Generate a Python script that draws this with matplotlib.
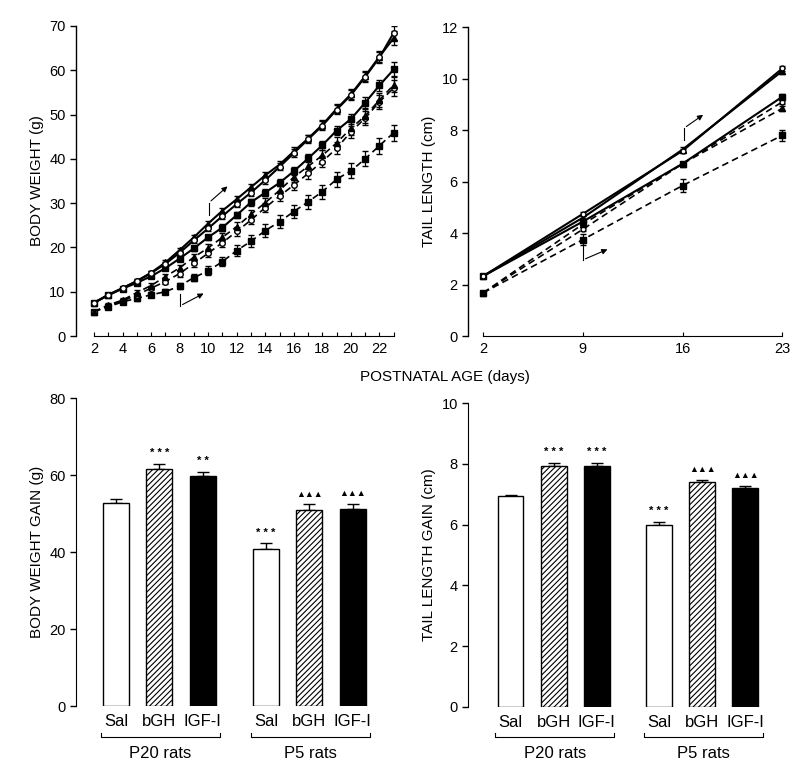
import matplotlib.pyplot as plt

plt.rcParams['font.family'] = ['Liberation Sans', 'DejaVu Sans']
plt.rcParams['hatch.linewidth'] = 0.8

# ---- body weight curves (days 2..23)
days = list(range(2, 24))
bw_p20_sal = [7.5, 9.2, 10.7, 12.0, 13.5, 15.3, 17.5, 19.8, 22.3, 24.5, 27.3,
              30.2, 32.4, 34.6, 37.2, 40.1, 43.1, 46.4, 49.0, 52.7, 56.6, 60.2]
bw_p20_bgh = [7.5, 9.3, 10.8, 12.4, 14.2, 16.3, 18.8, 21.6, 24.3, 27.1, 29.8,
              32.4, 35.2, 38.2, 41.3, 44.4, 47.5, 51.1, 54.4, 58.5, 62.9, 68.5]
bw_p20_igf = [7.5, 9.3, 10.8, 12.4, 14.3, 16.6, 19.4, 22.3, 25.4, 28.3, 30.9,
              33.6, 36.3, 38.7, 41.7, 44.6, 47.7, 51.3, 54.6, 58.7, 63.1, 67.3]
bw_p5_sal = [5.5, 6.6, 7.7, 8.5, 9.3, 10.0, 11.3, 13.2, 14.7, 16.8, 19.3,
             21.4, 23.8, 25.8, 28.1, 30.3, 32.6, 35.4, 37.3, 40.0, 43.0, 45.9]
bw_p5_bgh = [5.5, 6.8, 7.9, 9.3, 10.8, 12.3, 14.1, 16.4, 18.7, 21.1, 23.6,
             26.2, 29.0, 31.6, 34.1, 36.7, 39.4, 42.4, 46.1, 49.2, 52.9, 56.0]
bw_p5_igf = [5.5, 7.0, 8.1, 9.8, 11.4, 13.4, 15.4, 17.8, 19.9, 22.3, 24.7,
             27.5, 30.1, 32.9, 35.9, 38.3, 40.8, 43.6, 46.9, 49.7, 53.3, 56.7]
bw_err_p20 = [0.3, 0.3, 0.3, 0.4, 0.4, 0.5, 0.5, 0.6, 0.6, 0.7, 0.7,
              0.8, 0.8, 0.8, 0.9, 0.9, 1.0, 1.0, 1.1, 1.2, 1.3, 1.6]
bw_err_p5_sal = [0.3, 0.4, 0.4, 0.5, 0.5, 0.6, 0.7, 0.8, 1.0, 1.1, 1.3,
                 1.4, 1.5, 1.5, 1.5, 1.6, 1.6, 1.7, 1.7, 1.7, 1.8, 1.8]
bw_err_p5 = [0.3, 0.4, 0.4, 0.5, 0.5, 0.6, 0.7, 0.8, 0.9, 0.9, 1.0,
             1.0, 1.1, 1.1, 1.2, 1.2, 1.3, 1.3, 1.4, 1.5, 1.6, 1.7]

# ---- tail length curves
tail_days = [2, 9, 16, 23]
tl_p20_sal = [2.33, 4.45, 6.7, 9.3]
tl_p20_bgh = [2.33, 4.75, 7.2, 10.4]
tl_p20_igf = [2.33, 4.6, 7.25, 10.3]
tl_p5_sal = [1.68, 3.75, 5.85, 7.8]
tl_p5_bgh = [1.68, 4.15, 6.7, 9.1]
tl_p5_igf = [1.68, 4.35, 6.7, 8.85]
tl_err = [0.05, 0.08, 0.08, 0.1]
tl_err_p5_sal = [0.05, 0.2, 0.25, 0.2]

# ---- gains (bars)
groups = ['P20 rats', 'P5 rats']
treatments = ['Sal', 'bGH', 'IGF-I']
bw_gain = [52.9, 61.5, 59.7, 40.8, 50.9, 51.2]
bw_gain_err = [1.0, 1.5, 1.2, 1.5, 1.5, 1.4]
bw_gain_sig = ['', '* * *', '* *', '* * *', '▲▲▲', '▲▲▲']
tl_gain = [6.93, 7.92, 7.92, 6.0, 7.40, 7.22]
tl_gain_err = [0.04, 0.1, 0.1, 0.1, 0.08, 0.06]
tl_gain_sig = ['', '* * *', '* * *', '* * *', '▲▲▲', '▲▲▲']
bar_pos = [0, 1, 2, 3.45, 4.45, 5.45]

fig = plt.figure(figsize=(8.12, 7.76), dpi=100)


def line_series(ax, x, y, err, marker, dashed, ms=5):
    size = {'s': ms, 'o': ms - 1, '^': ms - 0.5}[marker]
    ax.errorbar(x, y, yerr=err, color='black', lw=1.5 if not dashed else 1.2,
                ls=(0, (4, 2.5)) if dashed else '-', marker=marker, ms=size,
                mfc='white' if marker == 'o' else 'black', mec='black',
                mew=1.0, elinewidth=0.9, capsize=2, capthick=0.9)


def style_top(ax):
    for s in ['top', 'right']:
        ax.spines[s].set_visible(False)
    ax.spines['left'].set_linewidth(1.0)
    ax.spines['bottom'].set_linewidth(0.8)
    ax.tick_params(axis='y', direction='out', length=4, width=1, labelsize=10.5)
    ax.tick_params(axis='x', direction='in', length=3, width=0.8, labelsize=10.5, pad=4)


# ---- top left: body weight
ax1 = fig.add_axes([0.0936, 0.567, 0.3966, 0.3995])
line_series(ax1, days, bw_p5_sal, bw_err_p5_sal, 's', True)
line_series(ax1, days, bw_p5_bgh, bw_err_p5, 'o', True)
line_series(ax1, days, bw_p5_igf, bw_err_p5, '^', True)
line_series(ax1, days, bw_p20_sal, bw_err_p20, 's', False)
line_series(ax1, days, bw_p20_igf, bw_err_p20, '^', False)
line_series(ax1, days, bw_p20_bgh, bw_err_p20, 'o', False)
ax1.set_xlim(0.74, 23.3)
ax1.set_ylim(0, 70)
ax1.set_yticks(range(0, 71, 10))
ax1.set_xticks(range(2, 24))
ax1.set_xticklabels([str(d) if d % 2 == 0 else '' for d in range(2, 24)])
ax1.spines['bottom'].set_bounds(2, 23)
ax1.set_ylabel('BODY WEIGHT (g)', fontsize=11)
style_top(ax1)
# treatment start arrows
ax1.plot([10.05, 10.05], [27.3, 30.1], color='black', lw=0.8)
ax1.annotate('', xy=(11.5, 34.2), xytext=(10.05, 30.1),
             arrowprops=dict(arrowstyle='-|>', color='black', lw=0.8, mutation_scale=8))
ax1.plot([8.03, 8.03], [9.5, 6.8], color='black', lw=0.8)
ax1.annotate('', xy=(9.85, 9.9), xytext=(8.03, 6.8),
             arrowprops=dict(arrowstyle='-|>', color='black', lw=0.8, mutation_scale=8))

# ---- top right: tail length
ax2 = fig.add_axes([0.5767, 0.567, 0.392, 0.3978])
line_series(ax2, tail_days, tl_p5_sal, tl_err_p5_sal, 's', True, ms=4.5)
line_series(ax2, tail_days, tl_p5_bgh, tl_err, 'o', True, ms=4.5)
line_series(ax2, tail_days, tl_p5_igf, tl_err, '^', True, ms=4.5)
line_series(ax2, tail_days, tl_p20_sal, tl_err, 's', False, ms=4.5)
line_series(ax2, tail_days, tl_p20_igf, tl_err, '^', False, ms=4.5)
line_series(ax2, tail_days, tl_p20_bgh, tl_err, 'o', False, ms=4.5)
ax2.set_xlim(0.95, 23.3)
ax2.set_ylim(0, 12)
ax2.set_yticks(range(0, 13, 2))
ax2.set_xticks(tail_days)
ax2.spines['bottom'].set_bounds(2, 23)
ax2.set_ylabel('TAIL LENGTH (cm)', fontsize=11)
style_top(ax2)
ax2.plot([16.1, 16.1], [7.62, 8.08], color='black', lw=0.8)
ax2.annotate('', xy=(17.6, 8.66), xytext=(16.1, 8.08),
             arrowprops=dict(arrowstyle='-|>', color='black', lw=0.8, mutation_scale=8))
ax2.plot([9.0, 9.0], [3.54, 2.96], color='black', lw=0.8)
ax2.annotate('', xy=(10.9, 3.41), xytext=(9.0, 2.96),
             arrowprops=dict(arrowstyle='-|>', color='black', lw=0.8, mutation_scale=8))

fig.text(445 / 812, 1 - 377 / 776, 'POSTNATAL AGE (days)', ha='center', va='center', fontsize=11)


# ---- bottom bars
def bar_panel(ax, vals, errs, sigs, ylim, yticks, ylabel, sig_pad):
    faces = ['white', 'white', 'black'] * 2
    hatches = ['', '//////', ''] * 2
    for p, v, e, fc, h in zip(bar_pos, vals, errs, faces, hatches):
        ax.bar(p, v, width=0.6, color=fc, edgecolor='black', hatch=h, lw=1.0, zorder=2)
        ax.errorbar(p, v, yerr=[[0], [e]], color='black', lw=1.0, capsize=4, capthick=1.0, zorder=1)
    for p, v, e, s in zip(bar_pos, vals, errs, sigs):
        if s:
            ax.text(p, v + e + sig_pad, s, ha='center', va='bottom',
                    fontsize=6.5 if '▲' in s else 8, fontweight='bold')
    ax.set_ylim(*ylim)
    ax.set_yticks(yticks)
    ax.set_xticks(bar_pos)
    ax.set_xticklabels(treatments * 2, fontsize=12)
    ax.tick_params(axis='x', length=0, pad=6)
    ax.tick_params(axis='y', direction='out', length=4, width=1, labelsize=10.5)
    for s in ['top', 'right', 'bottom']:
        ax.spines[s].set_visible(False)
    ax.set_ylabel(ylabel, fontsize=11)
    tr = ax.get_xaxis_transform()
    for gi, g in enumerate(groups):
        x0 = bar_pos[gi * 3] - 0.35
        x1 = bar_pos[gi * 3 + 2] + 0.4
        ax.plot([x0, x0, x1, x1], [-0.088, -0.1, -0.1, -0.088], transform=tr,
                color='black', lw=0.8, clip_on=False)
        ax.text((x0 + x1) / 2, -0.155, g, transform=tr, ha='center', va='center', fontsize=12)


ax3 = fig.add_axes([0.0936, 0.0902, 0.373, 0.3965])
bar_panel(ax3, bw_gain, bw_gain_err, bw_gain_sig, (0, 80), range(0, 81, 20),
          'BODY WEIGHT GAIN (g)', 1.5)
ax3.set_xlim(-0.92, 6.05)

ax4 = fig.add_axes([0.5767, 0.0893, 0.373, 0.391])
bar_panel(ax4, tl_gain, tl_gain_err, tl_gain_sig, (0, 10), range(0, 11, 2),
          'TAIL LENGTH GAIN (cm)', 0.2)
ax4.set_xlim(-0.98, 6.05)

fig.savefig('out.png', dpi=100)
